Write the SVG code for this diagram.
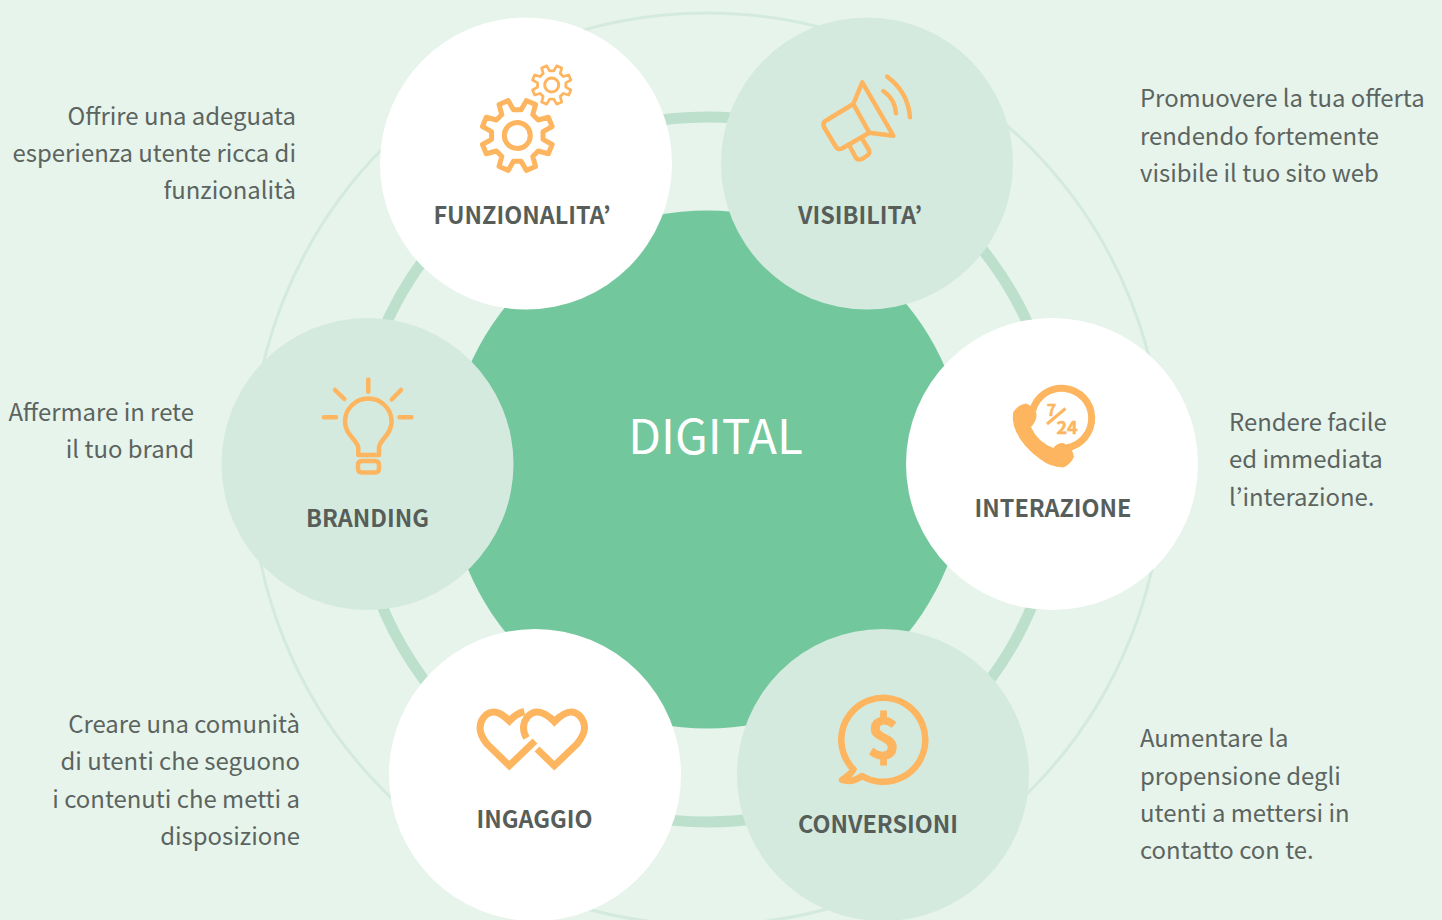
<svg xmlns="http://www.w3.org/2000/svg" width="1442" height="920" viewBox="0 0 1442 920">
<style>
text{font-family:"Noto Sans CJK JP","Noto Sans",sans-serif}
.d{font-size:23.9px;fill:#5c6460}
.e{text-anchor:end}
.l{font-size:23.4px;font-weight:700;fill:#575e5a;text-anchor:middle}
.w{fill:#fff}.g{fill:#d5eade}
.i{fill:none;stroke:#fdb55f;stroke-width:5;stroke-linecap:round;stroke-linejoin:round}
.f{fill:#fdb55f;font-weight:700;text-anchor:middle}
</style>
<defs>
<polygon id="gear" points="25.71,3.84 34.85,9.01 31.02,18.27 20.9,15.47 15.47,20.9 18.27,31.02 9.01,34.85 3.84,25.71 -3.84,25.71 -9.01,34.85 -18.27,31.02 -15.47,20.9 -20.9,15.47 -31.02,18.27 -34.85,9.01 -25.71,3.84 -25.71,-3.84 -34.85,-9.01 -31.02,-18.27 -20.9,-15.47 -15.47,-20.9 -18.27,-31.02 -9.01,-34.85 -3.84,-25.71 3.84,-25.71 9.01,-34.85 18.27,-31.02 15.47,-20.9 20.9,-15.47 31.02,-18.27 34.85,-9.01 25.71,-3.84"/>
</defs>
<rect width="1442" height="920" fill="#e7f4ec"/>
<g id="connectors" fill="none">
<circle cx="707" cy="469" r="456" stroke="#d5eade" stroke-width="3"/>
<circle cx="707" cy="469.500" r="352.500" stroke="#bce0cc" stroke-width="11"/>
</g>
<g id="digital">
<circle cx="707" cy="469.500" r="259" fill="#72c79c"/>
<text x="715.500" y="454" font-size="47.600" fill="#fff" text-anchor="middle">DIGITAL</text>
</g>
<g id="funzionalita">
<circle class="w" cx="526" cy="163.500" r="146"/>
<g class="i">
<use href="#gear" transform="translate(517.3 135.5)"/>
<circle cx="517.3" cy="135.5" r="13"/>
<use href="#gear" transform="translate(551.7 85) scale(.55)" stroke-width="5"/>
<circle cx="551.7" cy="85" r="7" stroke-width="3"/>
</g>
<text class="l" x="522" y="224">FUNZIONALITA’</text>
<text class="d e" x="296" y="125">Offrire una adeguata</text>
<text class="d e" x="296" y="162">esperienza utente ricca di</text>
<text class="d e" x="296" y="199">funzionalità</text>
</g>
<g id="visibilita">
<circle class="g" cx="867" cy="163.500" r="146"/>
<path class="i" style="stroke-width:4.500" d="M853.3 104L869.3 132.7L842 148.5Q838 150 836 147L824 127Q822 122 827 120ZM853.3 104L862.3 82.3L893.3 135.7L869.3 132.7M850 146.7L856 158Q858 160.500 862 159L868 155Q870 153 869 150L862.300 139M883.300 91Q895 99 896 113.300M887.300 76.700Q908 92 910 117.300"/>
<text class="l" x="860" y="224">VISIBILITA’</text>
<text class="d" x="1140" y="107">Promuovere la tua offerta</text>
<text class="d" x="1140" y="145">rendendo fortemente</text>
<text class="d" x="1140" y="182">visibile il tuo sito web</text>
</g>
<g id="branding">
<circle class="g" cx="367.500" cy="464" r="146"/>
<path class="i" style="stroke-width:4.500" d="M368.300 379.500V391.700M335 390L344.300 399M401 390L391.700 399.500M324 417.300H336M399.500 417.300H411.500M358.300 455V448C358 440 345 435 345 421.700A23.300 23.300 0 0 1 391.600 421.700C391.600 435 379 440 379 448V455ZM362 461H375Q379 461 379 465V468.500Q379 472.500 375 472.500H362Q358 472.500 358 468.500V465Q358 461 362 461Z"/>
<text class="l" x="367.500" y="527">BRANDING</text>
<text class="d e" x="194" y="421">Affermare in rete</text>
<text class="d e" x="194" y="458">il tuo brand</text>
</g>
<g id="interazione">
<circle class="w" cx="1052" cy="464" r="146"/>
<path d="M1032.700 410.500A30 30 0 1 1 1066.900 447.800" fill="none" stroke="#fdb55f" stroke-width="7"/>
<path d="M1013.300 412Q1018 405 1026 403.500Q1035 407 1036.500 414Q1037 421 1031 427Q1034 434 1040 440Q1046 445 1053.300 448Q1057 443 1063 443Q1072 446 1074 456.700Q1071 464 1063.300 467.500Q1050 467 1040 459Q1020 445 1014 426Q1012 418 1013.300 412Z" fill="#fdb55f"/>
<path d="M1047 424L1065.500 408.500" stroke="#fdb55f" stroke-width="3" fill="none"/>
<text class="f" x="1051.500" y="416" font-size="16" stroke="#fdb55f" stroke-width=".5">7</text>
<text class="f" x="1067" y="433.500" font-size="18" stroke="#fdb55f" stroke-width=".5">24</text>
<text class="l" x="1053" y="517">INTERAZIONE</text>
<text class="d" x="1229" y="431">Rendere facile</text>
<text class="d" x="1229" y="468">ed immediata</text>
<text class="d" x="1229" y="506">l’interazione.</text>
</g>
<g id="ingaggio">
<circle class="w" cx="535" cy="775" r="146"/>
<g fill="none" stroke="#fdb55f" stroke-width="7">
<path d="M524.300 711.500C518 713 514 716 509.300 721C503 715 499 712 494 712C486 712 480 720 480 728C480 734 483 739 487 744L509.300 765.700L535 741"/>
<path d="M526.500 738C524 734 523.500 731 523.500 727C524 719 530 712 537 712C543 712 549 716 554.300 721.700C560 716 565 712 571 712C578 712 584.500 719 584.500 728C584.500 734 581 739 577 744L554.300 765.700L537 749"/>
</g>
<text class="l" x="534.500" y="828">INGAGGIO</text>
<text class="d e" x="300" y="733">Creare una comunità</text>
<text class="d e" x="300" y="770">di utenti che seguono</text>
<text class="d e" x="300" y="808">i contenuti che metti a</text>
<text class="d e" x="300" y="845">disposizione</text>
</g>
<g id="conversioni">
<circle class="g" cx="883" cy="775" r="146"/>
<path class="i" style="stroke-width:6.500" d="M862 776A42 42 0 1 0 853.500 769.400Q851 774 842 780Q852 783 862 776Z"/>
<text class="f" x="883.500" y="758" font-size="56" stroke="#fdb55f" stroke-width="1">$</text>
<text class="l" x="878" y="833">CONVERSIONI</text>
<text class="d" x="1140" y="747">Aumentare la</text>
<text class="d" x="1140" y="785">propensione degli</text>
<text class="d" x="1140" y="822">utenti a mettersi in</text>
<text class="d" x="1140" y="859">contatto con te.</text>
</g>
</svg>
